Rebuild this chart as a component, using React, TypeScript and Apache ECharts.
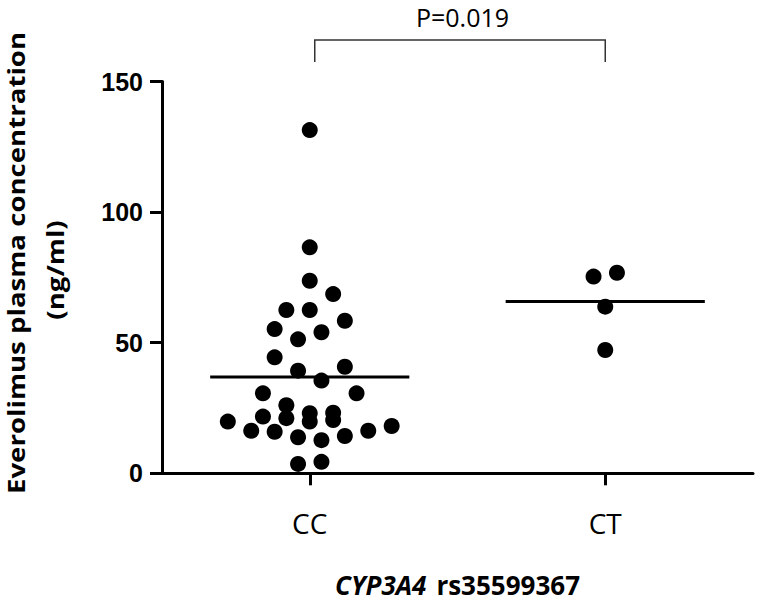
import React, { useEffect, useRef } from "react";
import * as echarts from "echarts";

const categories = ["CC", "CT"];
const yTicks = [0, 50, 100, 150];

// CC group: plasma concentration (ng/ml) and horizontal jitter (in half dot-widths)
const ccValues = [131.4, 86.5, 73.7, 68.6, 62.5, 62.5, 58.4, 55.2, 54.0, 51.3, 44.4, 40.8, 39.3, 35.5, 30.6, 30.6, 26.1, 19.8, 21.7, 21.1, 23.0, 19.8, 23.2, 20.4, 16.3, 15.9, 13.8, 12.7, 14.3, 16.3, 18.1, 3.6, 4.4];
const ccJitter = [0, 0, 0, 2, -2, 0, 3, -3, 1, -1, -3, 3, -1, 1, -4, 4, -2, -7, -4, -2, 0, 0, 2, 2, -5, -3, -1, 1, 3, 5, 7, -1, 1];

// CT group
const ctValues = [75.3, 76.8, 63.8, 47.2];
const ctJitter = [-1, 1, 0, 0];

const pLabel = "P=0.019";
const yTitle1 = "Everolimus plasma concentration";
const yTitle2 = "(ng/ml)";

const JITTER_STEP = 0.0396;
const MEAN_HALF = 0.337;

const mean = (a: number[]) => a.reduce((s, v) => s + v, 0) / a.length;

export default function App() {
  const ref = useRef<HTMLDivElement>(null);
  useEffect(() => {
    if (!ref.current) return;
    const chart = echarts.init(ref.current, undefined, { renderer: "svg" });
    const ccData = ccValues.map((v, i) => [0 + ccJitter[i] * JITTER_STEP, v]);
    const ctData = ctValues.map((v, i) => [1 + ctJitter[i] * JITTER_STEP, v]);
    const ccMean = mean(ccValues);
    const ctMean = mean(ctValues);
    const axisColor = "#000";
    chart.setOption({
      animation: false,
      grid: { left: 162, right: 9, top: 81.5, bottom: 128.7, containLabel: false, outerBoundsMode: "none" },
      xAxis: [
        {
          type: "category",
          data: categories,
          boundaryGap: true,
          axisLine: { show: true, onZero: false, lineStyle: { color: axisColor, width: 3 } },
          axisTick: { show: true, interval: 0, alignWithLabel: true, length: 12, lineStyle: { color: axisColor, width: 3 } },
          axisLabel: { color: "#000", fontSize: 28, fontFamily: "Open Sans", margin: 36, interval: 0 },
          name: "{i|CYP3A4}{b|rs35599367}",
          nameLocation: "middle",
          nameGap: 112,
          nameTextStyle: {
            verticalAlign: "middle",
            lineHeight: 20,
            rich: {
              i: { fontSize: 26, lineHeight: 20, fontWeight: "bold", fontStyle: "italic", fontFamily: "Open Sans", color: "#000" },
              b: { fontSize: 26, lineHeight: 20, fontWeight: "bold", fontFamily: "Open Sans", color: "#000", padding: [0, 0, 0, 10] },
            },
          },
        },
        { type: "value", min: -0.5, max: 1.5, show: false },
      ],
      yAxis: {
        type: "value",
        min: yTicks[0],
        max: yTicks[yTicks.length - 1],
        interval: yTicks[1] - yTicks[0],
        axisLine: { show: true, onZero: false, lineStyle: { color: axisColor, width: 3 } },
        axisTick: { show: true, length: 12, lineStyle: { color: axisColor, width: 3 } },
        splitLine: { show: false },
        axisLabel: { color: "#000", fontSize: 25, fontWeight: "bold", fontFamily: "Liberation Sans", margin: 19 },
      },
      series: [
        {
          type: "scatter",
          xAxisIndex: 1,
          data: ccData,
          symbolSize: 16,
          itemStyle: { color: "#000", opacity: 1 },
        },
        {
          type: "scatter",
          xAxisIndex: 1,
          data: ctData,
          symbolSize: 16,
          itemStyle: { color: "#000", opacity: 1 },
        },
        {
          type: "line",
          xAxisIndex: 1,
          data: [[0 - MEAN_HALF, ccMean], [0 + MEAN_HALF, ccMean]],
          symbol: "none",
          lineStyle: { color: "#000", width: 3 },
        },
        {
          type: "line",
          xAxisIndex: 1,
          data: [[1 - MEAN_HALF, ctMean], [1 + MEAN_HALF, ctMean]],
          symbol: "none",
          lineStyle: { color: "#000", width: 3 },
        },
      ],
    });
    const x1 = chart.convertToPixel({ xAxisIndex: 1 }, 0) as number;
    const x2 = chart.convertToPixel({ xAxisIndex: 1 }, 1) as number;
    chart.setOption({
      graphic: [
        {
          type: "polyline",
          shape: { points: [[x1 + 5, 62], [x1 + 5, 40], [x2, 40], [x2, 62]] },
          style: { stroke: "#333", lineWidth: 1.5, fill: null },
        },
        {
          type: "text",
          x: (x1 + x2) / 2 + 5,
          y: 17,
          style: { text: pLabel, fontSize: 25, fontFamily: "Open Sans", fill: "#000", textAlign: "center", textVerticalAlign: "middle" },
        },
        {
          type: "text",
          x: 16,
          y: 263,
          rotation: Math.PI / 2,
          scaleX: 1.15,
          style: { text: yTitle1, fontSize: 24, fontWeight: "bold", fontFamily: "Open Sans", fill: "#000", textAlign: "center", textVerticalAlign: "middle" },
        },
        {
          type: "text",
          x: 55,
          y: 270,
          rotation: Math.PI / 2,
          scaleX: 1.15,
          style: { text: yTitle2, fontSize: 24, fontWeight: "bold", fontFamily: "Open Sans", fill: "#000", textAlign: "center", textVerticalAlign: "middle" },
        },
      ],
    });
    return () => chart.dispose();
  }, []);
  return <div ref={ref} style={{ width: 762, height: 602, position: "absolute", left: 0, top: 0 }} />;
}
